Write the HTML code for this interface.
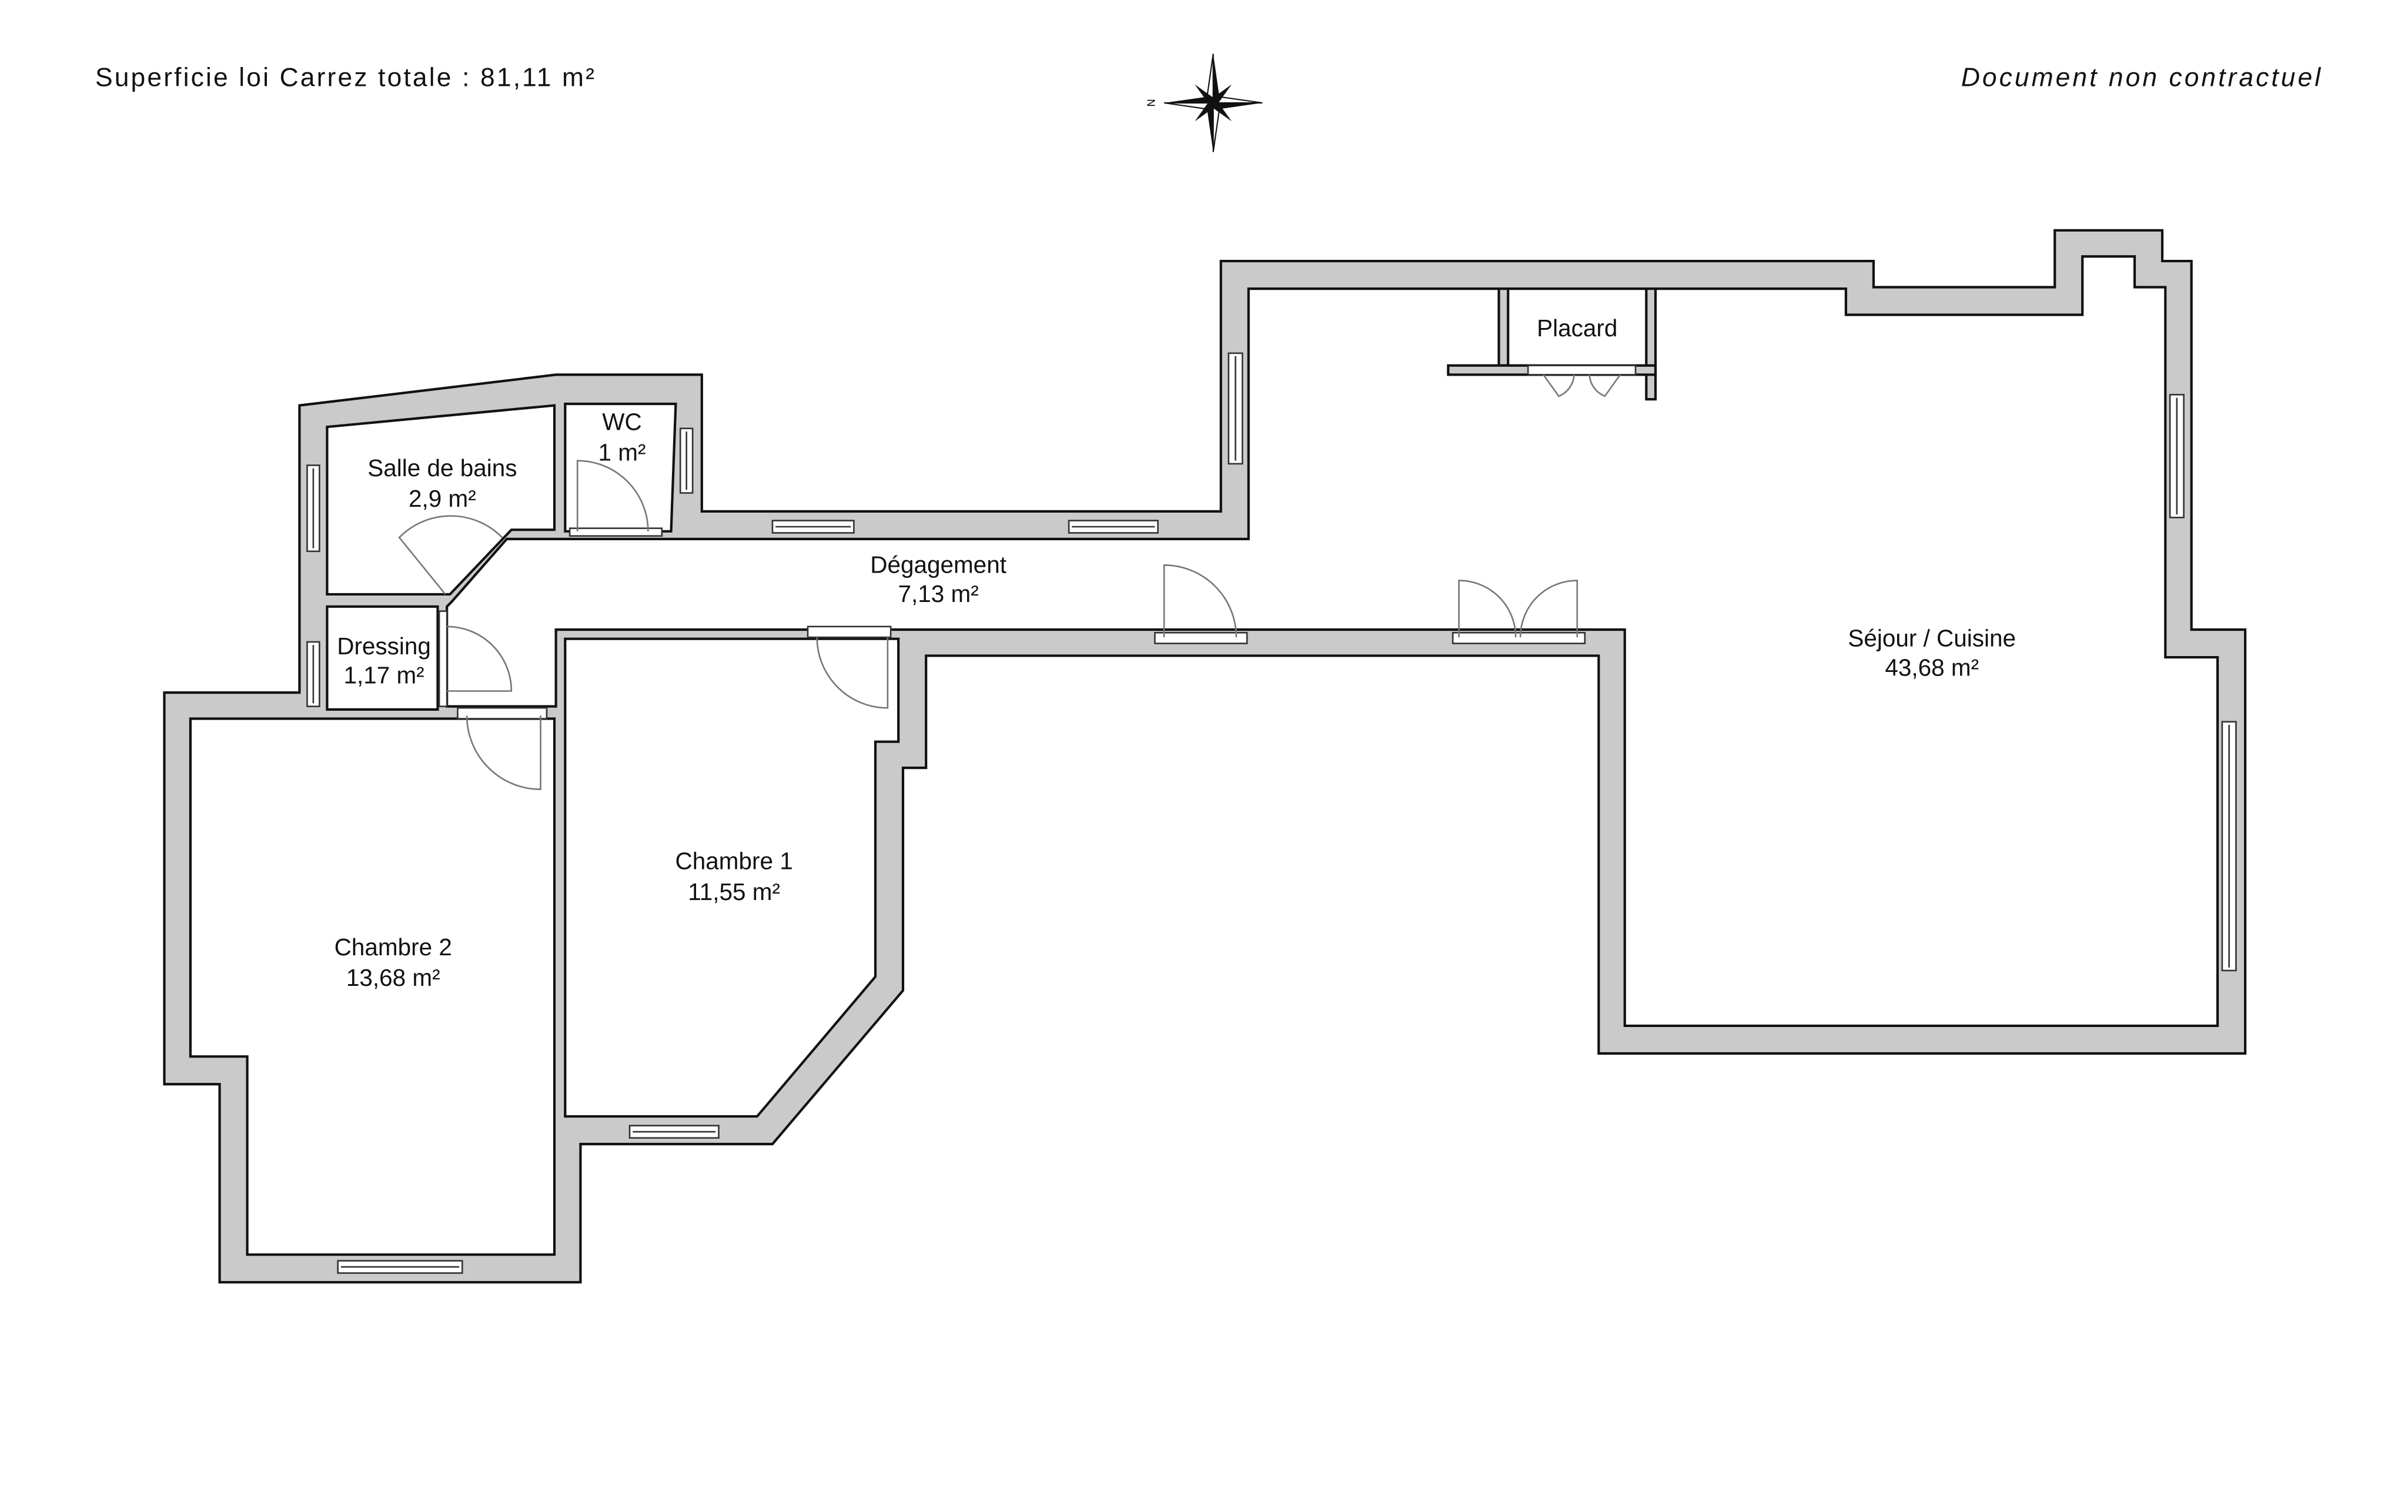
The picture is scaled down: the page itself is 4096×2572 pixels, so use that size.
<!DOCTYPE html>
<html><head><meta charset="utf-8"><style>html,body{margin:0;padding:0;background:#fff}svg{display:block}</style></head>
<body>
<svg width="4096" height="2572" viewBox="0 0 1568 984.6" xmlns="http://www.w3.org/2000/svg" font-family="Liberation Sans, sans-serif">
<rect x="0" y="0" width="1568" height="985" fill="#fff"/>
<g stroke="#111" stroke-width="1.6" stroke-linejoin="miter">
<polygon fill="#cacaca" points="195,264 362,244 457,244 457,333 795,333 795,170 1220,170 1220,187 1338,187 1338,150 1408,150 1408,170 1427,170 1427,410 1462,410 1462,686 1041,686 1041,427 603,427 603,500 588,500 588,645 503,745 378,745 378,835 143,835 143,706 107,706 107,451 195,451"/>
<g fill="#fff">
<polygon points="213,278 361,264 361,345 333,345 293,387 213,387"/>
<polygon points="368,263 440,263 437,346 368,346"/>
<polygon points="213,395 285,395 285,462 213,462"/>
<polygon points="330,351 813,351 813,188 1202,188 1202,205 1356,205 1356,167 1390,167 1390,187 1410,187 1410,428 1444,428 1444,668 1058,668 1058,410 362,410 362,460 291,460 291,395 294,392"/>
<polygon points="368,416 585,416 585,483 570,483 570,636 493,727 368,727"/>
<polygon points="124,468 361,468 361,817 161,817 161,688 124,688"/>
</g>
<g fill="#cacaca">
<rect x="976" y="188" width="6" height="50"/>
<rect x="1072" y="188" width="6" height="72"/>
<rect x="943" y="238" width="135" height="6"/>
</g>
</g>
<g fill="#fff" stroke="#333" stroke-width="1">
<rect x="800" y="230" width="9" height="72"/><line x1="804.5" y1="232" x2="804.5" y2="300"/>
<rect x="1413" y="257" width="9" height="80"/><line x1="1417.5" y1="259" x2="1417.5" y2="335"/>
<rect x="1447" y="470" width="9" height="162"/><line x1="1451.5" y1="472" x2="1451.5" y2="630"/>
<rect x="503" y="339" width="53" height="8"/><line x1="505" y1="343" x2="554" y2="343"/>
<rect x="696" y="339" width="58" height="8"/><line x1="698" y1="343" x2="752" y2="343"/>
<rect x="443" y="279" width="8" height="42"/><line x1="447" y1="281" x2="447" y2="319"/>
<rect x="200" y="303" width="8" height="56"/><line x1="204" y1="305" x2="204" y2="357"/>
<rect x="200" y="418" width="8" height="42"/><line x1="204" y1="420" x2="204" y2="458"/>
<rect x="220" y="821" width="81" height="8"/><line x1="222" y1="825" x2="299" y2="825"/>
<rect x="410" y="733" width="58" height="8"/><line x1="412" y1="737" x2="466" y2="737"/>
<rect x="298" y="461" width="58" height="7"/>
<rect x="526" y="408" width="54" height="7"/>
<rect x="752" y="412" width="60" height="7"/>
<rect x="946" y="412" width="86" height="7"/>
<rect x="371" y="344" width="60" height="5"/>
<rect x="286" y="398" width="5" height="62"/>
<rect x="995" y="238" width="70" height="6"/>
</g>
<g fill="none" stroke="#777" stroke-width="1">
<path d="M758,415 L758,368 A47,47 0 0 1 805,415"/>
<path d="M950,415 L950,378 A37,37 0 0 1 987,415"/>
<path d="M1027,415 L1027,378 A37,37 0 0 0 990,415"/>
<path d="M578,415 L578,461 A46,46 0 0 1 532,415"/>
<path d="M352,466 L352,514 A48,48 0 0 1 304,466"/>
<path d="M291,408 A42,42 0 0 1 333,450 L291,450"/>
<path d="M376,346 L376,300 A46,46 0 0 1 422,346"/>
<path d="M290,387 L260,350 A47,47 0 0 1 327,350"/>
<path d="M1005,244 L1015,258 A16,16 0 0 0 1025,244"/>
<path d="M1055,244 L1045,258 A16,16 0 0 1 1035,244"/>
</g>
<g font-size="15.5" fill="#111" text-anchor="middle">
<text x="288" y="310">Salle de bains</text><text x="288" y="330">2,9 m²</text>
<text x="405" y="280">WC</text><text x="405" y="300">1 m²</text>
<text x="250" y="426">Dressing</text><text x="250" y="445">1,17 m²</text>
<text x="611" y="373">Dégagement</text><text x="611" y="392">7,13 m²</text>
<text x="1027" y="219">Placard</text>
<text x="1258" y="421">Séjour / Cuisine</text><text x="1258" y="440">43,68 m²</text>
<text x="478" y="566">Chambre 1</text><text x="478" y="586">11,55 m²</text>
<text x="256" y="622">Chambre 2</text><text x="256" y="642">13,68 m²</text>
<text x="62" y="56" text-anchor="start" font-size="17" textLength="325" lengthAdjust="spacing">Superficie loi Carrez totale :  81,11 m²</text>
<text x="1277" y="56" text-anchor="start" font-size="17" font-style="italic" textLength="234" lengthAdjust="spacing">Document non contractuel</text>
</g>
<g transform="translate(790,67)">
<polygon points="0,-32 4,-4 0,0" fill="#111"/><polygon points="0,-32 -4,-4 0,0" fill="#fff" stroke="#111" stroke-width="0.8"/>
<polygon points="0,32 -4,4 0,0" fill="#111"/><polygon points="0,32 4,4 0,0" fill="#fff" stroke="#111" stroke-width="0.8"/>
<polygon points="-32,0 -4,-4 0,0" fill="#111"/><polygon points="-32,0 -4,4 0,0" fill="#fff" stroke="#111" stroke-width="0.8"/>
<polygon points="32,0 4,4 0,0" fill="#111"/><polygon points="32,0 4,-4 0,0" fill="#fff" stroke="#111" stroke-width="0.8"/>
<polygon points="-12,-12 -2,2 2,-2" fill="#111"/><polygon points="12,12 2,-2 -2,2" fill="#111"/>
<polygon points="12,-12 2,2 -2,-2" fill="#111"/><polygon points="-12,12 -2,-2 2,2" fill="#111"/>
<text x="-40" y="3" font-size="7" transform="rotate(90 -40 0)" text-anchor="middle">N</text>
</g>
</svg>
</body></html>
